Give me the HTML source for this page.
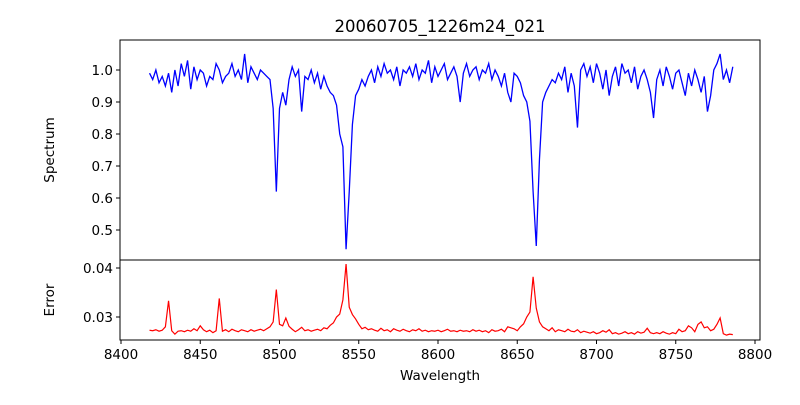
<!DOCTYPE html>
<html><head><meta charset="utf-8"><style>
body{margin:0;background:#fff;}
svg text{font-family:"DejaVu Sans","Liberation Sans",sans-serif;fill:#000;}
</style></head><body>
<svg id="chart" width="800" height="400" viewBox="0 0 800 400" xmlns="http://www.w3.org/2000/svg">
<rect width="800" height="400" fill="#fff"/>
<text x="440" y="32" font-size="16.5" text-anchor="middle">20060705_1226m24_021</text>
<text transform="translate(54,150) rotate(-90)" font-size="13.5" text-anchor="middle">Spectrum</text>
<text transform="translate(54,300) rotate(-90)" font-size="13.5" text-anchor="middle">Error</text>
<text x="440" y="380" font-size="13.5" text-anchor="middle">Wavelength</text>
<g id="marks"></g>
<rect x="120" y="40" width="640" height="220" fill="none" stroke="#000" stroke-width="1"/>
<rect x="120" y="260" width="640" height="80" fill="none" stroke="#000" stroke-width="1"/>
<g id="axes"></g>
</svg>
<script>
const wlStart = 8418;
const wlStep = 2;
const spectrum = [
0.99,0.97,1.00,0.96,0.98,0.95,0.99,0.93,1.00,0.95,
1.02,0.98,1.03,0.94,1.01,0.97,1.00,0.99,0.95,0.98,
0.97,1.02,1.00,0.96,0.98,0.99,1.02,0.98,1.00,0.97,
1.05,0.96,1.01,0.99,0.97,1.00,0.99,0.98,0.97,0.88,
0.62,0.88,0.93,0.89,0.97,1.01,0.98,1.00,0.87,0.98,
0.97,1.00,0.96,0.99,0.94,0.98,0.95,0.93,0.92,0.89,
0.80,0.76,0.44,0.62,0.83,0.92,0.94,0.97,0.95,0.98,
1.00,0.96,1.01,0.98,1.02,0.99,1.00,0.97,1.01,0.95,
1.00,0.99,1.01,0.98,1.02,0.97,1.00,0.99,1.03,0.96,
1.01,0.98,1.00,1.02,0.97,0.99,1.01,0.98,0.90,0.99,
1.02,0.98,1.00,1.01,0.97,1.00,0.99,1.02,0.97,1.00,
0.98,0.95,0.99,0.93,0.90,0.99,0.98,0.96,0.92,0.90,
0.84,0.62,0.45,0.72,0.90,0.93,0.95,0.97,0.96,0.99,
0.97,1.01,0.93,0.99,0.95,0.82,1.00,1.02,0.98,1.01,
0.96,1.02,0.99,0.94,1.00,0.92,0.98,1.01,0.95,1.02,
0.99,1.00,0.96,1.01,0.94,0.98,1.00,0.97,0.93,0.85,
0.97,1.00,0.95,1.01,0.98,0.94,0.99,1.00,0.96,0.92,
0.99,0.95,1.00,0.97,0.93,0.98,0.87,0.92,1.00,1.02,
1.05,0.97,1.00,0.96,1.01];
const errorVals = [
0.0273,0.0272,0.0274,0.0271,0.0273,0.0280,0.0333,0.0272,0.0265,0.0271,
0.0272,0.0270,0.0273,0.0271,0.0276,0.0272,0.0282,0.0274,0.0270,0.0273,
0.0268,0.0272,0.0338,0.0271,0.0274,0.0270,0.0275,0.0272,0.0270,0.0274,
0.0272,0.0270,0.0274,0.0271,0.0273,0.0275,0.0272,0.0276,0.0280,0.0290,
0.0356,0.0285,0.0282,0.0298,0.0281,0.0275,0.0270,0.0274,0.0279,0.0272,
0.0274,0.0271,0.0273,0.0275,0.0272,0.0278,0.0276,0.0283,0.0288,0.0300,
0.0306,0.0335,0.0408,0.0320,0.0305,0.0296,0.0285,0.0276,0.0279,0.0274,
0.0276,0.0273,0.0271,0.0277,0.0272,0.0274,0.0270,0.0276,0.0273,0.0271,
0.0275,0.0272,0.0270,0.0274,0.0272,0.0276,0.0271,0.0273,0.0270,0.0272,
0.0271,0.0273,0.0270,0.0272,0.0275,0.0271,0.0272,0.0270,0.0273,0.0271,
0.0272,0.0270,0.0274,0.0271,0.0273,0.0270,0.0272,0.0268,0.0274,0.0271,
0.0272,0.0275,0.0270,0.0280,0.0278,0.0276,0.0272,0.0280,0.0286,0.0300,
0.0310,0.0382,0.0318,0.0290,0.0280,0.0276,0.0272,0.0278,0.0270,0.0274,
0.0272,0.0270,0.0275,0.0271,0.0270,0.0274,0.0268,0.0271,0.0269,0.0267,
0.0270,0.0266,0.0268,0.0272,0.0269,0.0274,0.0266,0.0268,0.0265,0.0267,
0.0270,0.0266,0.0268,0.0265,0.0270,0.0267,0.0269,0.0277,0.0268,0.0266,
0.0268,0.0266,0.0270,0.0267,0.0265,0.0268,0.0266,0.0275,0.0270,0.0272,
0.0282,0.0278,0.0270,0.0285,0.0290,0.0278,0.0280,0.0272,0.0275,0.0285,
0.0298,0.0266,0.0263,0.0265,0.0264];
const xTicks = [8400,8450,8500,8550,8600,8650,8700,8750,8800];
const specTicks = [0.5,0.6,0.7,0.8,0.9,1.0];
const errTicks = [0.03,0.04];

const NS = "http://www.w3.org/2000/svg";
const xS = w => 121 + (w - 8400) * 1.585;
const ySpec = v => 70 + (1.0 - v) * 320;
const yErr = v => 317 - (v - 0.03) * 4900;
const marks = document.getElementById('marks');
const axes = document.getElementById('axes');

function pathFrom(vals, yf) {
  return vals.map((v, i) => (i ? 'L' : 'M') + xS(wlStart + i * wlStep).toFixed(2) + ' ' + yf(v).toFixed(2)).join(' ');
}
const sp = document.createElementNS(NS, 'path');
sp.setAttribute('d', pathFrom(spectrum, ySpec));
sp.setAttribute('fill', 'none'); sp.setAttribute('stroke', '#0000ff'); sp.setAttribute('stroke-width', '1.3');


marks.appendChild(sp);
const ep = document.createElementNS(NS, 'path');
ep.setAttribute('d', pathFrom(errorVals, yErr));
ep.setAttribute('fill', 'none'); ep.setAttribute('stroke', '#ff0000'); ep.setAttribute('stroke-width', '1.2');


marks.appendChild(ep);

function line(x1, y1, x2, y2) {
  const l = document.createElementNS(NS, 'line');
  l.setAttribute('x1', x1); l.setAttribute('y1', y1); l.setAttribute('x2', x2); l.setAttribute('y2', y2);
  l.setAttribute('stroke', '#000'); l.setAttribute('stroke-width', '1');
  return l;
}
function label(x, y, t, anchor) {
  const e = document.createElementNS(NS, 'text');
  e.setAttribute('x', x); e.setAttribute('y', y); e.setAttribute('font-size', '13.5');
  e.setAttribute('text-anchor', anchor); e.textContent = t;
  return e;
}
xTicks.forEach(t => {
  const x = xS(t);
  const tk = line(x, 340, x, 344);
  
  
  axes.appendChild(tk);
  const lb = label(x, 359, String(t), 'middle');
  
  
  axes.appendChild(lb);
});
specTicks.forEach(t => {
  const y = ySpec(t);
  const tk = line(116, y, 120, y);
  
  
  axes.appendChild(tk);
  const lb = label(113, y + 5, t.toFixed(1), 'end');
  
  
  axes.appendChild(lb);
});
errTicks.forEach(t => {
  const y = yErr(t);
  const tk = line(116, y, 120, y);
  
  
  axes.appendChild(tk);
  const lb = label(113, y + 5, t.toFixed(2), 'end');
  
  
  axes.appendChild(lb);
});
</script>
</body></html>
